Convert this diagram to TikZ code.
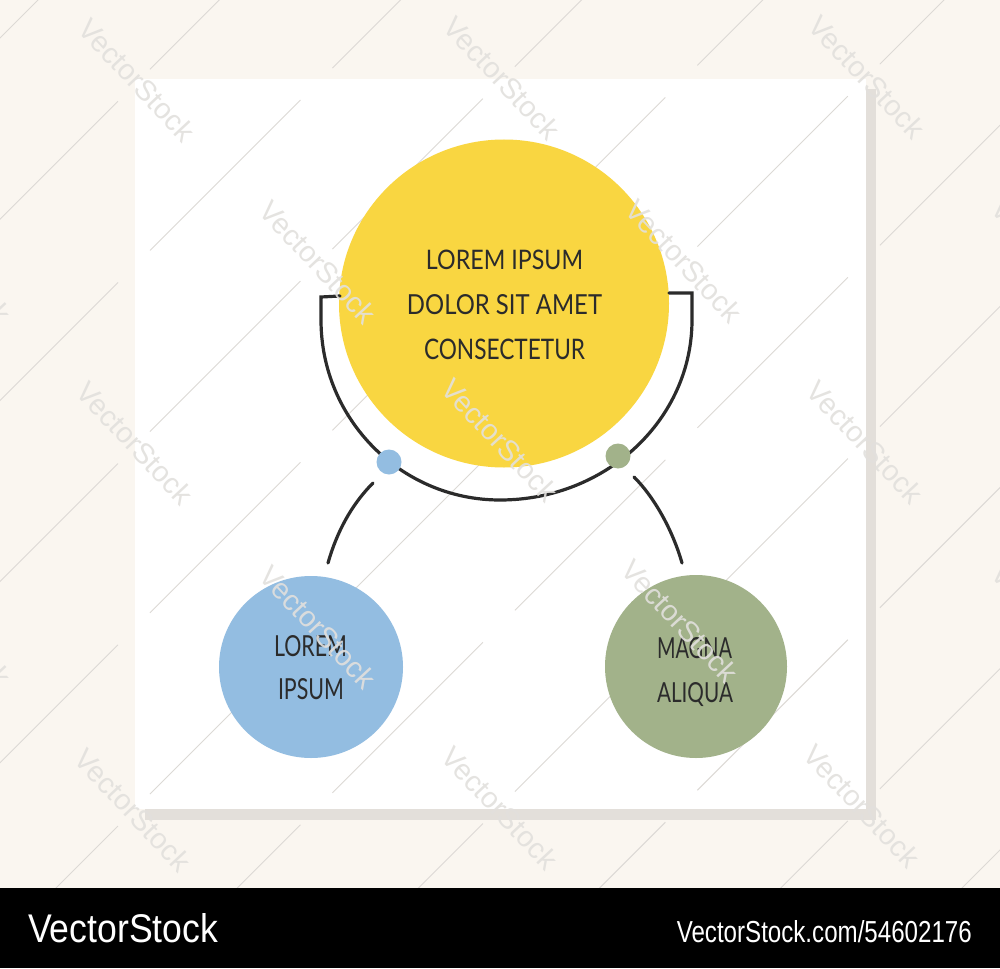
\documentclass[tikz,border=0pt]{standalone}
\usepackage{fontspec}
\usepackage{graphicx}
\usetikzlibrary{shapes.geometric}
\setmainfont{Lato}
\newfontfamily\barfont{Liberation Sans}
\newfontfamily\wmfont{Liberation Sans}
\newcommand{\fitbox}[3]{\resizebox{#1pt}{#2pt}{#3}}
\definecolor{bgcream}{HTML}{FAF6F0}
\definecolor{shadowc}{HTML}{E3DFDA}
\definecolor{yellowc}{HTML}{F9D641}
\definecolor{bluec}{HTML}{93BDE1}
\definecolor{greenc}{HTML}{A2B28A}
\definecolor{inkc}{HTML}{2B2B2B}
\definecolor{wmlinec}{HTML}{DCD9D5}
\definecolor{wmtextc}{HTML}{E2E0DD}
\tikzset{
  inkline/.style={draw=inkc, line width=3.2pt, line cap=round, line join=miter},
  txt/.style={inner sep=0pt, anchor=base, text=inkc},
  blob/.style={draw=none, inner sep=0pt},
  dotnode/.style={circle, draw=none, inner sep=0pt, minimum size=25pt},
  wmline/.style={draw=wmlinec, line width=0.9pt, dash pattern=on 212.8pt off 45.25pt},
  wmtext/.style={inner sep=0pt, text=wmtextc, rotate=-47, font=\wmfont\fontsize{29}{29}\selectfont, opacity=0.9},
  bartext/.style={inner sep=0pt, text=white}
}
\begin{document}
\begin{tikzpicture}[x=1pt,y=-1pt]
\useasboundingbox (0,0) rectangle (1000,968);
% background, card and its shadow
\fill[bgcream] (0,0) rectangle (1000,968);
\fill[shadowc] (145,89) rectangle (876,820);
\fill[white] (135,79) rectangle (866,809);
% watermark lines
\begin{scope}
  \clip (0,0) rectangle (1000,888);
  \foreach \k in {0,...,10} {
    \pgfmathsetmacro{\cc}{38+181.2*\k}
    \draw[wmline] (-32.5,\cc+32.5) -- (\cc+32.5,-32.5);
  }
\end{scope}
% main circle
\node[blob, ellipse, fill=yellowc, minimum width=330pt, minimum height=328pt] (main) at (504,303.5) {};
% bracket under the main circle
\coordinate (bL) at (340,296);
\coordinate (bR) at (669,293);
\draw[inkline] (bL) -- (321,297) -- (321,320)
  .. controls (321,419.4) and (401.2,500) .. (500,500)
  .. controls (606,500) and (692,419.4) .. (692,320)
  -- (692,293) -- (bR);
% dots on the bracket
\node[dotnode, fill=bluec] (dotL) at (389,462) {};
\node[dotnode, fill=greenc] (dotR) at (618,456) {};
% lower circles
\node[blob, ellipse, fill=bluec, minimum width=184pt, minimum height=182pt] (left) at (311,667) {};
\node[blob, ellipse, fill=greenc, minimum width=182pt, minimum height=183pt] (right) at (696,666.5) {};
% connectors
\coordinate (cLs) at (373,483);
\coordinate (cLe) at (328,563);
\coordinate (cRs) at (634,477);
\coordinate (cRe) at (682,563);
\draw[inkline, line cap=round] (cLs) .. controls +(-22,22) and +(8.5,-30) .. (cLe);
\draw[inkline, line cap=round] (cRs) .. controls +(22,22) and +(-8.5,-30) .. (cRe);
% texts
\node[txt] (t1) at (504.5,269) {\fitbox{157}{19.5}{LOREM IPSUM}};
\node[txt] (t2) at (504.5,314) {\fitbox{195}{20}{DOLOR SIT AMET}};
\node[txt] (t3) at (504.5,359) {\fitbox{161}{20.5}{CONSECTETUR}};
\node[txt] (t4) at (310.5,656) {\fitbox{73}{21}{LOREM}};
\node[txt] (t5) at (311,699) {\fitbox{66}{21}{IPSUM}};
\node[txt] (t6) at (694.5,658) {\fitbox{75}{21}{MAGNA}};
\node[txt] (t7) at (695,702) {\fitbox{76}{20}{ALIQUA}};
% watermark texts
\foreach \x/\y [count=\i] in {137/80, 502/78, 867/77, 135/443, 500/440, 865/442, 133/810, 500/808, 862/806, -47/262, 318/262, 684/261, 1050/260, -47/625, 318/627, 680/621, 1050/625} {
  \node[wmtext] (wm\i) at (\x,\y) {VectorStock};
}
% bottom bar
\fill[black] (0,888) rectangle (1000,968);
\node[bartext, anchor=base west] (brand) at (28,942) {\barfont\fitbox{190}{29}{VectorStock}};
\node[bartext, anchor=base east] (ref) at (972,942) {\barfont\fitbox{295}{22}{VectorStock.com/54602176}};
\end{tikzpicture}
\end{document}
